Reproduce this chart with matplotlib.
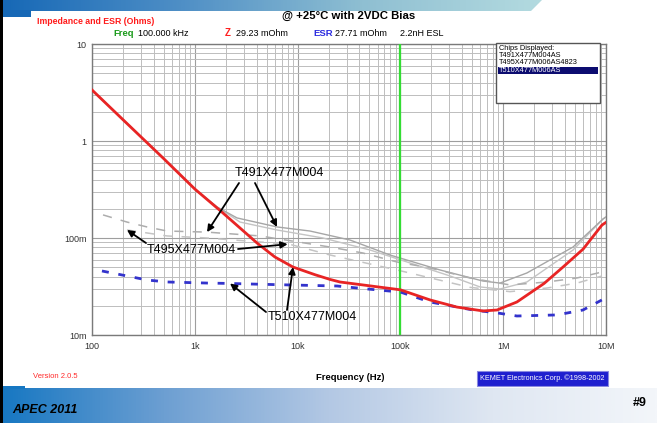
import numpy as np
import matplotlib
matplotlib.use("Agg")
import matplotlib.pyplot as plt
from matplotlib.colors import LinearSegmentedColormap
from matplotlib.patches import Rectangle, Polygon
from matplotlib.ticker import FixedLocator, LogLocator, NullFormatter

plt.rcParams['font.family'] = ['Liberation Sans', 'DejaVu Sans']

W, H = 657, 423

# T510X477M006AS impedance (red) and ESR (blue dashed)
freq_z510 = [100, 200, 491, 1000, 1880, 3000, 4030, 6000, 9020, 14800, 20700, 25800,
             43300, 100000, 194000, 355000, 636000, 871000, 1.36e6, 2.5e6, 3.82e6,
             6e6, 9.14e6, 1e7]
z510 = [3.36, 1.66, 0.668, 0.32, 0.181, 0.117, 0.0888, 0.0638, 0.0502, 0.0418, 0.0374,
        0.0352, 0.0328, 0.02923, 0.023, 0.0194, 0.0177, 0.0181, 0.0219, 0.034, 0.0502,
        0.077, 0.136, 0.145]
freq_esr510 = [125, 219, 343, 537, 1340, 2200, 3290, 8430, 24200, 43300, 100000,
               194000, 508000, 871000, 1.36e6, 3.34e6, 5.97e6, 9.14e6]
esr510 = [0.0457, 0.0406, 0.0369, 0.0352, 0.0343, 0.034, 0.0336, 0.0328, 0.032, 0.0301,
          0.02771, 0.0219, 0.0181, 0.0169, 0.0157, 0.0161, 0.0181, 0.023]

# T491X477M004AS (gray)
freq_z491 = [100, 491, 1000, 1644, 2574, 6300, 13200, 32350, 79200, 243000, 636000,
             931000, 1.70e6, 4.78e6, 9.35e6, 1e7]
z491 = [3.36, 0.668, 0.32, 0.209, 0.161, 0.130, 0.118, 0.0953, 0.0668, 0.0468, 0.036,
        0.0343, 0.0436, 0.0807, 0.157, 0.165]
freq_esr491 = [128, 219, 343, 537, 1315, 4306, 20660, 43270, 92700, 194000, 475000,
               1.165e6, 2.67e6, 5.22e6, 9.14e6]
esr491 = [0.173, 0.146, 0.130, 0.118, 0.115, 0.105, 0.0807, 0.070, 0.0566, 0.0491,
          0.0387, 0.0328, 0.0352, 0.0387, 0.0446]

# T495X477M006AS4823 (light gray)
freq_z495 = [100, 491, 1000, 1644, 2754, 6300, 17660, 50600, 116000, 304000, 594000,
             931000, 1.70e6, 4.78e6, 9.35e6, 1e7]
z495 = [3.36, 0.668, 0.32, 0.209, 0.146, 0.121, 0.100, 0.0752, 0.0566, 0.0406, 0.0313,
        0.0298, 0.0352, 0.0752, 0.157, 0.165]
freq_esr495 = [219, 537, 1315, 4306, 8430, 20660, 92700, 475000, 1.165e6, 2.67e6,
               5.22e6, 9.14e6]
esr495 = [0.121, 0.105, 0.100, 0.091, 0.086, 0.0668, 0.0468, 0.031, 0.028, 0.0305,
          0.0343, 0.0406]

marker_freq = 100000
esl_nh = 2.2
x_ticks = [100, 1e3, 1e4, 1e5, 1e6, 1e7]
x_labels = ['100', '1k', '10k', '100k', '1M', '10M']
y_ticks = [0.01, 0.1, 1, 10]
y_labels = ['10m', '100m', '1', '10']
chips = ['T491X477M004AS', 'T495X477M006AS4823', 'T510X477M006AS']


def fp(x, y):
    # pixel position (from top-left) -> figure fraction
    return x / W, 1 - y / H


def on_curve(fx, fy, f):
    v = np.interp(np.log10(f), np.log10(fx), np.log10(fy))
    return f, 10 ** v


fig = plt.figure(figsize=(W / 100, H / 100), dpi=100)
fig.patch.set_facecolor('white')

# background layer: banners
bg = fig.add_axes([0, 0, 1, 1], zorder=0)
bg.axis('off')
grad = np.linspace(0, 1, 512)[None, :]
top_cm = LinearSegmentedColormap.from_list('top', ['#1668b6', '#4f8fc6', '#8fbfd2', '#b4dbe0'])
im = bg.imshow(grad, cmap=top_cm, extent=(0, 545, 11, 0), aspect='auto')
im.set_clip_path(Polygon([(0, 0), (542, 0), (531, 11), (0, 11)], closed=True,
                         transform=bg.transData))
bg.add_patch(Rectangle((0, 10), 31, 7, color='#1668b6', lw=0))
bot_cm = LinearSegmentedColormap.from_list('bot', ['#1677c2', '#6d9fd2', '#b3c8e4',
                                                   '#dfe7f2', '#f3f6fa'])
bg.imshow(grad, cmap=bot_cm, extent=(0, W, H, 388), aspect='auto')
bg.add_patch(Rectangle((0, 386), 25, 3, color='#1677c2', lw=0))
bg.add_patch(Rectangle((0, 0), 3, H, color='black', lw=0))
bg.set_xlim(0, W)
bg.set_ylim(H, 0)

# main plot
ax = fig.add_axes([92 / W, 1 - 335 / H, (606 - 92) / W, (335 - 44) / H], zorder=2)
ax.set_xscale('log')
ax.set_yscale('log')
ax.set_xlim(100, 1e7)
ax.set_ylim(0.01, 10)
ax.xaxis.set_major_locator(FixedLocator(x_ticks))
ax.set_xticklabels(x_labels)
ax.yaxis.set_major_locator(FixedLocator(y_ticks))
ax.set_yticklabels(y_labels)
for a in (ax.xaxis, ax.yaxis):
    a.set_minor_locator(LogLocator(base=10, subs=np.arange(2, 10)))
    a.set_minor_formatter(NullFormatter())
ax.grid(which='major', color='#9e9e9e', lw=0.8)
ax.grid(which='minor', color='#bdbdbd', lw=0.7)
ax.set_axisbelow(True)
ax.tick_params(which='both', length=0, labelsize=6.5, labelcolor='#333333')
ax.tick_params(axis='x', pad=5)
ax.tick_params(axis='y', pad=4)
for s in ax.spines.values():
    s.set_color('#7a7a7a')
    s.set_linewidth(1.0)

ax.plot(freq_z495, z495, color='#c4c4c4', lw=1.0, zorder=3)
ax.plot(freq_z491, z491, color='#a6a6a6', lw=1.0, zorder=3)
ax.plot(freq_esr495, esr495, color='#c4c4c4', lw=1.1, ls=(0, (6, 6)), zorder=3)
ax.plot(freq_esr491, esr491, color='#adadad', lw=1.1, ls=(0, (6, 6)), zorder=3)
ax.axvline(marker_freq, color='#33dd33', lw=1.6, zorder=4)
ax.plot(freq_esr510, esr510, color='#3333cc', lw=2.0, ls=(0, (2.5, 3.5)), zorder=5)
ax.plot(freq_z510, z510, color='#e82424', lw=2.0, zorder=6)

# part-number callouts
arrow = dict(arrowstyle='-|>', color='black', lw=1.3, mutation_scale=10,
             shrinkA=0, shrinkB=0)
callouts = [
    ('T491X477M004', (279, 173), [((239, 183), on_curve(freq_esr491, esr491, 1315)),
                                   ((255, 183), on_curve(freq_z491, z491, 6300))]),
    ('T495X477M004', (191, 250), [((146, 243), on_curve(freq_esr495, esr495, 219)),
                                   ((238, 249), on_curve(freq_esr495, esr495, 8000))]),
    ('T510X477M004', (312, 317), [((266, 312), on_curve(freq_esr510, esr510, 2200)),
                                   ((287, 310), on_curve(freq_z510, z510, 9020))]),
]
for label, (tx, ty), arrows in callouts:
    fig.text(*fp(tx, ty), label, ha='center', va='center', fontsize=9, zorder=10)
    for (sx, sy), tip in arrows:
        ax.annotate('', xy=tip, xycoords='data', xytext=(sx, H - sy),
                    textcoords='figure pixels', arrowprops=arrow, zorder=9,
                    annotation_clip=False)

# foreground layer: headers, chip list, footer
fg = fig.add_axes([0, 0, 1, 1], zorder=5)
fg.axis('off')
fg.set_xlim(0, W)
fg.set_ylim(H, 0)

fg.text(37, 22, 'Impedance and ESR (Ohms)', color='#ff1a1a', fontsize=6.3,
        fontweight='bold', va='center')
fg.text(349, 16, '@ +25\u00b0C with 2VDC Bias', fontsize=8.2, fontweight='bold',
        ha='center', va='center')
i100k = freq_z510.index(marker_freq)
j100k = freq_esr510.index(marker_freq)
fg.text(113, 33, 'Freq', color='#1a9a1a', fontsize=6.8, fontweight='bold', va='center')
fg.text(138, 33, f'{marker_freq / 1000:.3f} kHz', fontsize=6.5, va='center')
fg.text(225, 33, 'Z', color='#ff2020', fontsize=7, fontweight='bold', va='center')
fg.text(236, 33, f'{z510[i100k] * 1000:.2f} mOhm', fontsize=6.5, va='center')
fg.text(313, 33, 'ESR', color='#2b2be0', fontsize=6.8, fontweight='bold', va='center')
fg.text(335, 33, f'{esr510[j100k] * 1000:.2f} mOhm', fontsize=6.5, va='center')
fg.text(400, 33, f'{esl_nh}nH ESL', fontsize=6.5, va='center')

fg.add_patch(Rectangle((496, 43), 104, 60, facecolor='white', edgecolor='#555555',
                       lw=1.0))
fg.add_patch(Rectangle((498, 67), 100, 7.5, facecolor='#0c0c70', lw=0))
fg.text(499, 48, 'Chips Displayed:', fontsize=5.3, va='center')
for k, chip in enumerate(chips):
    last = k == len(chips) - 1
    fg.text(499, 55.5 + 7.3 * k, chip, fontsize=5.3, va='center',
            color='white' if last else 'black')

fg.text(33, 377, 'Version 2.0.5', color='#ff2a2a', fontsize=5.5, va='center')
fg.text(350, 378, 'Frequency (Hz)', fontsize=6.8, fontweight='bold', ha='center',
        va='center')
fg.add_patch(Rectangle((477, 371), 131, 15, facecolor='#1f1fcf', edgecolor='#8a8ae0',
                       lw=0.8))
fg.text(542, 378.5, 'KEMET Electronics Corp. \u00a91998-2002', color='white',
        fontsize=5.2, ha='center', va='center')
fg.text(12, 410, 'APEC 2011', fontsize=9, fontweight='bold', fontstyle='italic',
        va='center')
fg.text(640, 403, '#9', fontsize=9, fontweight='bold', va='center', ha='center')

fig.savefig('out.png', dpi=100)
